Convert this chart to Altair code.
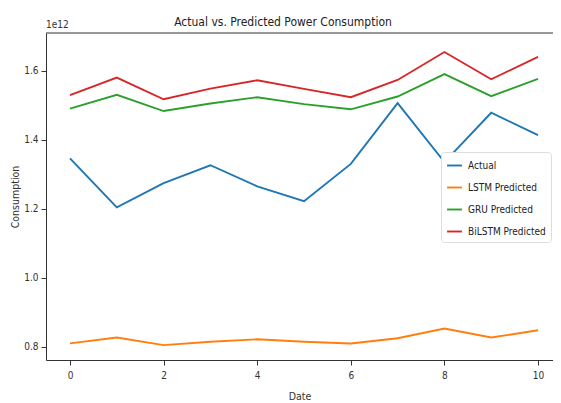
import altair as alt
import pandas as pd

# x positions (index) and series values (units of 1e12)
dates = [0, 1, 2, 3, 4, 5, 6, 7, 8, 9, 10]
actual = [1.346, 1.204, 1.274, 1.326, 1.265, 1.222, 1.330, 1.506, 1.335, 1.478, 1.413]
lstm = [0.810, 0.827, 0.805, 0.815, 0.822, 0.815, 0.810, 0.825, 0.853, 0.827, 0.848]
gru = [1.490, 1.530, 1.483, 1.505, 1.523, 1.503, 1.488, 1.525, 1.590, 1.526, 1.576]
bilstm = [1.529, 1.580, 1.517, 1.548, 1.572, 1.547, 1.523, 1.573, 1.654, 1.575, 1.640]

series_names = ["Actual", "LSTM Predicted", "GRU Predicted", "BiLSTM Predicted"]
series_colors = ["#1f77b4", "#ff7f0e", "#2ca02c", "#d62728"]
y_ticks = [0.8, 1.0, 1.2, 1.4, 1.6]
x_ticks = [0, 2, 4, 6, 8, 10]
chart_title = "Actual vs. Predicted Power Consumption"

rows = []
for name, vals in zip(series_names, [actual, lstm, gru, bilstm]):
    for d, v in zip(dates, vals):
        rows.append({"Date": d, "Consumption": v, "Series": name})
df = pd.DataFrame(rows)

FONT = "DejaVu Sans Condensed"
W, H = 507, 327

lines = alt.Chart(df).mark_line(strokeWidth=1.9).encode(
    x=alt.X("Date:Q", scale=alt.Scale(domain=[-0.513, 10.32], nice=False, zero=False),
            axis=alt.Axis(values=x_ticks, title="Date", format="d")),
    y=alt.Y("Consumption:Q", scale=alt.Scale(domain=[0.762, 1.709], nice=False, zero=False),
            axis=alt.Axis(values=y_ticks, title="Consumption", format=".1f")),
    color=alt.Color("Series:N",
                    scale=alt.Scale(domain=series_names, range=series_colors),
                    sort=series_names,
                    legend=alt.Legend(title=None, orient="none", legendX=395, legendY=119,
                                      symbolType="stroke", symbolStrokeWidth=1.9,
                                      symbolSize=220, labelFont=FONT, labelFontSize=10,
                                      labelColor="#222", fillColor="white",
                                      strokeColor="#dddddd", padding=5, rowPadding=8,
                                      cornerRadius=3, labelOffset=5)),
    detail="Series:N",
)

offset = alt.Chart(pd.DataFrame({"t": ["1e12"]})).mark_text(
    align="left", baseline="bottom", font=FONT, fontSize=10, color="#333", dy=-3
).encode(x=alt.value(0), y=alt.value(0), text="t:N")

title_mark = alt.Chart(pd.DataFrame({"t": [chart_title]})).mark_text(
    align="center", baseline="middle", font=FONT, fontSize=12, color="#222"
).encode(x=alt.value(237), y=alt.value(-11), text="t:N")

top_spine = alt.Chart(pd.DataFrame({"a": [0]})).mark_rule(color="#333", strokeWidth=1).encode(
    x=alt.value(0), x2=alt.value(W), y=alt.value(0)
)

chart = (lines + offset + title_mark + top_spine).properties(
    width=W, height=H,
    autosize=alt.AutoSizeParams(type="none"),
    padding={"left": 38, "top": 25, "right": 0, "bottom": 45},
).configure_view(stroke=None).configure_axis(
    labelFont=FONT, titleFont=FONT, labelFontSize=10, titleFontSize=10.5,
    titleFontWeight="normal", labelColor="#333", titleColor="#333",
    domainColor="#333", tickColor="#333", tickSize=5, grid=False, labelPadding=3,
).configure_axisY(titlePadding=3).configure_axisX(titlePadding=11, labelPadding=5)

chart.save("out.html", embed_options={"renderer": "svg", "actions": False})
